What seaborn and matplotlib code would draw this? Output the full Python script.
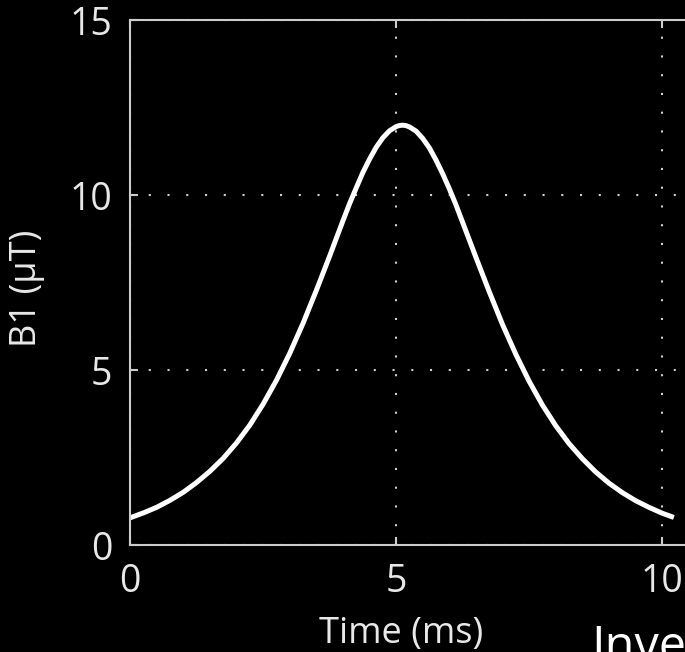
# plot.py
# Pulso B1 (secante hiperbólica) sobre fondo negro

import pandas as pd
import matplotlib.pyplot as plt
import seaborn as sns

# Datos (tiempo en ms, B1 en µT)
tiempo = [0.0, 0.25, 0.5, 0.75, 1.0, 1.25, 1.5, 1.75, 2.0, 2.25, 2.5, 2.75,
          3.0, 3.25, 3.5, 3.75, 4.0, 4.125, 4.25, 4.375, 4.5, 4.625, 4.75, 4.875,
          5.0, 5.06, 5.12, 5.18, 5.25, 5.375, 5.5, 5.625, 5.75, 5.875, 6.0, 6.125,
          6.25, 6.5, 6.75, 7.0, 7.25, 7.5, 7.75, 8.0, 8.25, 8.5,
          8.75, 9.0, 9.25, 9.5, 9.75, 10.0, 10.22]
b1 = [0.78, 0.92, 1.08, 1.28, 1.51, 1.79, 2.11, 2.48, 2.92, 3.43, 4.03, 4.71,
      5.48, 6.34, 7.28, 8.26, 9.27, 9.76, 10.21, 10.65, 11.03, 11.37, 11.64, 11.84,
      11.96, 11.99, 12.0, 11.99, 11.95, 11.83, 11.62, 11.35, 11.00, 10.61, 10.18, 9.72,
      9.22, 8.22, 7.24, 6.30, 5.45, 4.68, 4.00, 3.41, 2.90, 2.47,
      2.09, 1.77, 1.50, 1.27, 1.08, 0.91, 0.79]
xticks = [0, 5, 10]
yticks = [0, 5, 10, 15]

data = pd.DataFrame({'t': tiempo, 'b1': b1})

sns.set_theme(style='dark')
plt.rcParams['font.family'] = ['Open Sans', 'DejaVu Sans']

fig = plt.figure(figsize=(6.85, 6.52), dpi=100, facecolor='black')
ax = fig.add_axes([0.19, 0.164, 0.932, 0.805])
ax.set_facecolor('black')

sns.lineplot(data=data, x='t', y='b1', ax=ax, color='white', linewidth=3.6,
             solid_capstyle='butt', solid_joinstyle='round')

ax.set_xlim(0, 12)
ax.set_ylim(0, 15)
ax.set_xticks(xticks)
ax.set_yticks(yticks)

# Rejilla punteada
ax.grid(True, color='#d0d0d0', linestyle=(0, (1, 8)), linewidth=1.5)

for s in ax.spines.values():
    s.set_visible(True)
    s.set_color('#cccccc')
    s.set_linewidth(1.5)

ax.tick_params(direction='in', length=6, width=1.5, color='#cccccc',
               labelcolor='#e8e8e8', labelsize=27, pad=13,
               top=True, right=True, bottom=True, left=True)

ax.set_xlabel('Time (ms)', color='#e8e8e8', fontsize=26)
ax.set_ylabel('B1 (μT)', color='#e8e8e8', fontsize=26)
ax.xaxis.set_label_coords(0.424, -0.135)
ax.yaxis.set_label_coords(-0.133, 0.49)

fig.text(0.863, -0.014, 'Inversion', color='white', fontsize=35, va='baseline')

plt.savefig('out.png', dpi=100, facecolor='black')
